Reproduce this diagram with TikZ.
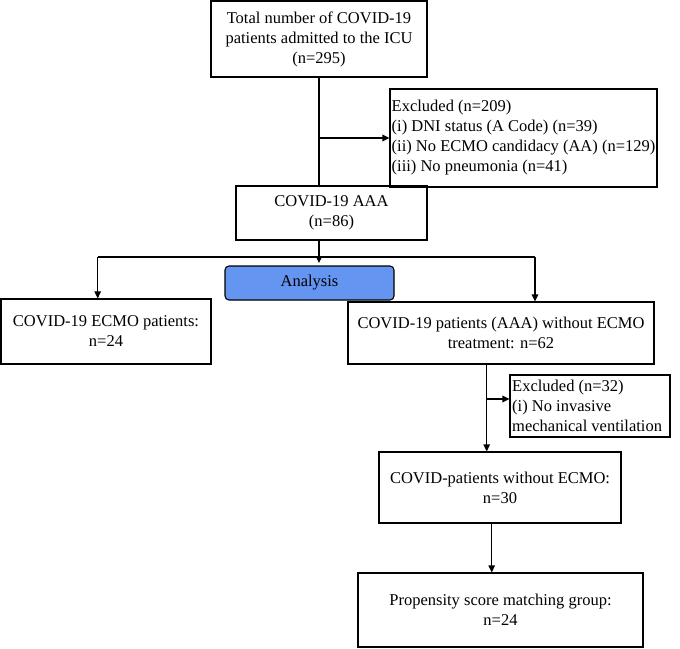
\documentclass[tikz,border=0pt]{standalone}
\usepackage{fontspec}
\setmainfont{Liberation Serif}
\usetikzlibrary{arrows.meta}
\definecolor{anblue}{RGB}{100,149,240}
\tikzset{
  box/.style={draw=black, line width=1.1pt, rectangle, align=center, inner sep=0pt,
    font=\fontsize{16.5}{20}\selectfont},
  frame/.style={draw=black, line width=1.1pt, rectangle, inner sep=0pt},
  ltext/.style={anchor=west, align=left, inner sep=0pt,
    font=\fontsize{16.5}{20}\selectfont},
  conn/.style={line width=1.1pt},
  arr/.style={line width=1.1pt, -{Triangle[length=7pt,width=6.5pt]}},
}
\begin{document}
\begin{tikzpicture}[x=1pt,y=-1pt]
\useasboundingbox (0,0) rectangle (680,648);
\node[box, minimum width=216, minimum height=76] (top) at (319,39)
  {Total number of COVID-19\\patients admitted to the ICU\\(n=295)};
\node[frame, minimum width=267, minimum height=98] (ex1) at (523.5,138) {};
\node[ltext] (ex1t) at (391.5,138)
  {Excluded (n=209)\\(i) DNI status (A Code) (n=39)\\(ii) No ECMO candidacy (AA) (n=129)\\(iii) No pneumonia (n=41)};
\node[box, minimum width=191, minimum height=54] (aaa) at (331.5,213)
  {COVID-19 AAA\\(n=86)};
\node[box, fill=anblue, rounded corners=4pt, minimum width=169, minimum height=34] (an) at (309.5,283)
  {Analysis};
\node[box, minimum width=210, minimum height=65] (ecmo) at (106,331.5)
  {COVID-19 ECMO patients:\\n=24};
\node[box, minimum width=306, minimum height=62] (noecmo) at (501,333)
  {COVID-19 patients (AAA) without ECMO\\treatment: n=62};
\node[frame, minimum width=160, minimum height=62] (ex2) at (590,406) {};
\node[ltext] (ex2t) at (512,406)
  {Excluded (n=32)\\(i) No invasive\\mechanical ventilation};
\node[box, minimum width=242, minimum height=71] (cpw) at (500,487.5)
  {COVID-patients without ECMO:\\n=30};
\node[box, minimum width=285, minimum height=74] (psm) at (500.5,610)
  {Propensity score matching group:\\n=24};
% connectors
\coordinate (c1) at (319,0);
\draw[conn] (top.south -| c1) -- (aaa.north -| c1);
\draw[arr] (ex1.west -| c1) -- (ex1.west);
\coordinate (tipa) at (319,263);
\draw[arr] (aaa.south -| c1) -- (tipa);
\coordinate (hl) at (97.7,257);
\coordinate (hr) at (535,257);
\draw[conn] (hl) -- (hr);
\draw[arr] (hl) -- (hl |- ecmo.north);
\draw[arr] (hr) -- (hr |- noecmo.north);
\coordinate (c2) at (486.7,0);
\draw[arr] (noecmo.south -| c2) -- (cpw.north -| c2);
\coordinate (b2) at (486.7,399);
\draw[arr] (b2) -- (b2 -| ex2.west);
\coordinate (c3) at (491.7,0);
\draw[arr] (cpw.south -| c3) -- (psm.north -| c3);
\end{tikzpicture}
\end{document}
